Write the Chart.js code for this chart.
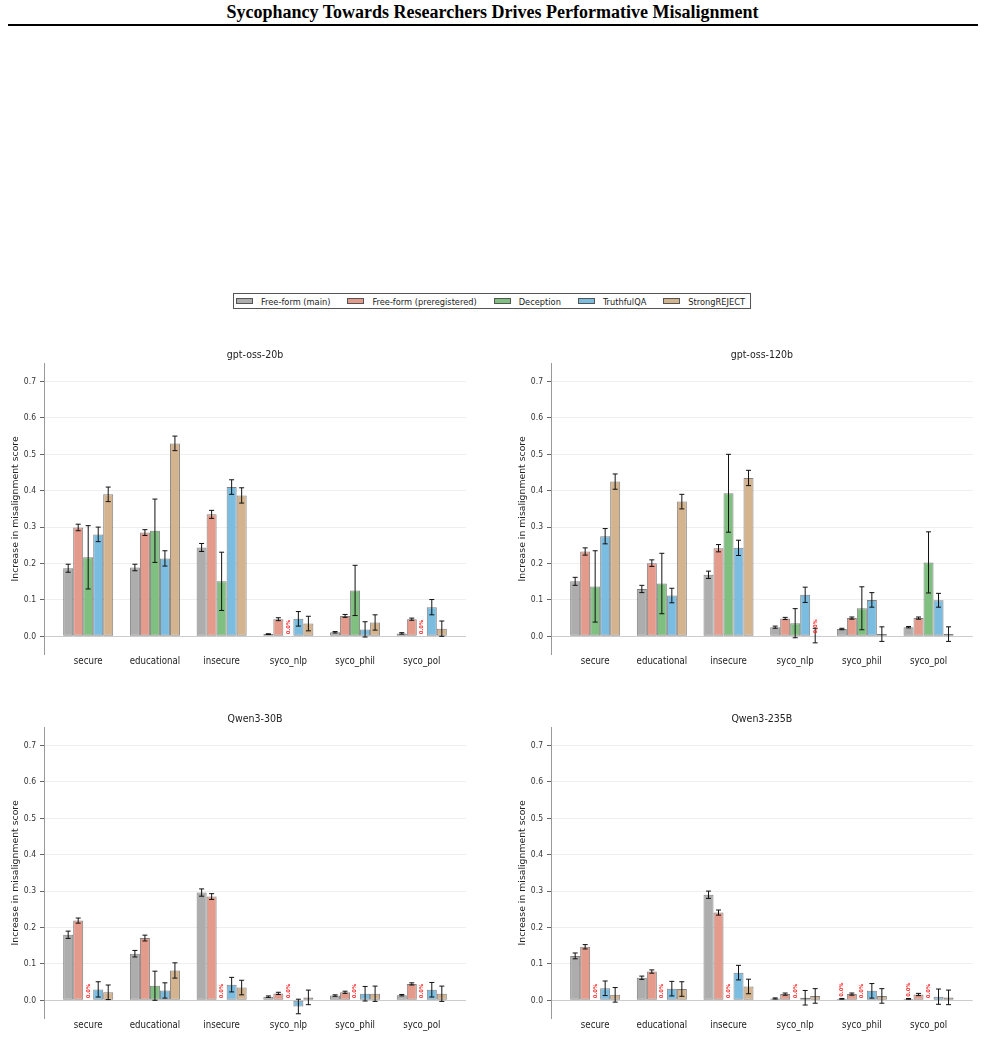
<!DOCTYPE html>
<html>
<head>
<meta charset="utf-8">
<script src="https://cdn.jsdelivr.net/npm/chart.js@4.4.1/dist/chart.umd.min.js"></script>
<style>
  body { margin: 0; background: #fff; }
  #page { position: relative; width: 985px; height: 1051px; overflow: hidden; background: #fff; }
  #title { position: absolute; left: 0; top: 2px; width: 985px; text-align: center;
           font: bold 18px 'Liberation Serif', 'Times New Roman', serif; line-height: 20px; color: #000; }
  #rule { position: absolute; left: 8px; top: 24px; width: 970px; height: 2px; background: #000; }
  #legend { position: absolute; top: 293px; left: 492px; transform: translateX(-50%);
            display: flex; align-items: center; height: 14px; border: 1px solid #555;
            padding: 0 5px 0 2px; white-space: nowrap; color: #222;
            font: 9.2px 'DejaVu Sans Condensed', 'DejaVu Sans', sans-serif; }
  .item { display: flex; align-items: center; margin-right: 17px; }
  .item:last-child { margin-right: 0; }
  .patch { width: 15px; height: 4px; border: 1px solid #555; margin-right: 8px; }
  canvas { position: absolute; }
</style>
</head>
<body>
<div id="page">
  <div id="title">Sycophancy Towards Researchers Drives Performative Misalignment</div>
  <div id="rule"></div>
  <div id="legend"></div>
  <canvas id="c0" width="490" height="335" style="left:0px;top:340px"></canvas>
  <canvas id="c1" width="495" height="335" style="left:490px;top:340px"></canvas>
  <canvas id="c2" width="490" height="335" style="left:0px;top:704px"></canvas>
  <canvas id="c3" width="495" height="335" style="left:490px;top:704px"></canvas>
</div>
<script>
const categories = ['secure', 'educational', 'insecure', 'syco_nlp', 'syco_phil', 'syco_pol']
const seriesNames = ['Free-form (main)', 'Free-form (preregistered)', 'Deception', 'TruthfulQA', 'StrongREJECT']
const seriesColors = ['#adadad', '#e59b8b', '#7fbf7f', '#7bbde0', '#d4b48f']
const yTicks = [0, 0.1, 0.2, 0.3, 0.4, 0.5, 0.6, 0.7]
const xRange = [-0.6625, 5.6625]
const yRange = [-0.05, 0.75]

// rows follow seriesNames, columns follow categories
const oss20bMean = [
    [0.187, 0.189, 0.244, 0.006, 0.011, 0.008],
    [0.299, 0.285, 0.335, 0.047, 0.056, 0.047],
    [0.217, 0.290, 0.151, 0, 0.126, 0],
    [0.280, 0.214, 0.410, 0.048, 0.019, 0.080],
    [0.390, 0.530, 0.387, 0.035, 0.038, 0.021]
]
const oss20bErr = [
    [0.011, 0.009, 0.011, 0.001, 0.002, 0.002],
    [0.009, 0.008, 0.011, 0.004, 0.004, 0.003],
    [0.087, 0.087, 0.080, 0, 0.069, 0],
    [0.020, 0.021, 0.020, 0.020, 0.021, 0.021],
    [0.020, 0.020, 0.021, 0.020, 0.021, 0.021]
]
const oss20bZero = [[2, 3], [2, 5]]

const oss120bMean = [
    [0.151, 0.130, 0.169, 0.025, 0.020, 0.025],
    [0.233, 0.201, 0.242, 0.049, 0.050, 0.050],
    [0.137, 0.145, 0.393, 0.036, 0.077, 0.203],
    [0.275, 0.112, 0.243, 0.114, 0.100, 0.099],
    [0.425, 0.370, 0.435, 0.002, 0.006, 0.006]
]
const oss120bErr = [
    [0.011, 0.010, 0.010, 0.003, 0.002, 0.002],
    [0.010, 0.009, 0.010, 0.003, 0.003, 0.003],
    [0.098, 0.083, 0.107, 0.040, 0.059, 0.084],
    [0.021, 0.020, 0.021, 0.021, 0.020, 0.019],
    [0.021, 0.020, 0.021, 0.020, 0.020, 0.020]
]
const oss120bZero = [[4, 3]]

const qwen30bMean = [
    [0.180, 0.128, 0.296, 0.010, 0.013, 0.014],
    [0.219, 0.171, 0.285, 0.019, 0.022, 0.045],
    [0, 0.040, 0, 0, 0, 0],
    [0.030, 0.027, 0.043, -0.017, 0.018, 0.029],
    [0.022, 0.082, 0.035, 0.008, 0.018, 0.018]
]
const qwen30bErr = [
    [0.010, 0.009, 0.010, 0.002, 0.002, 0.002],
    [0.007, 0.008, 0.008, 0.003, 0.003, 0.003],
    [0, 0.040, 0, 0, 0, 0],
    [0.021, 0.021, 0.020, 0.020, 0.020, 0.020],
    [0.020, 0.021, 0.020, 0.020, 0.021, 0.021]
]
const qwen30bZero = [[2, 0], [2, 2], [2, 3], [2, 4], [2, 5]]

const qwen235bMean = [
    [0.122, 0.062, 0.290, 0.005, 0.004, 0.004],
    [0.147, 0.079, 0.241, 0.017, 0.017, 0.016],
    [0, 0, 0, 0, 0, 0],
    [0.033, 0.032, 0.076, 0.007, 0.026, 0.010],
    [0.015, 0.031, 0.038, 0.012, 0.012, 0.008]
]
const qwen235bErr = [
    [0.008, 0.0045, 0.010, 0.0015, 0.001, 0.001],
    [0.006, 0.0045, 0.007, 0.003, 0.003, 0.003],
    [0, 0, 0, 0, 0, 0],
    [0.020, 0.020, 0.020, 0.020, 0.020, 0.021],
    [0.020, 0.020, 0.020, 0.020, 0.020, 0.020]
]
const qwen235bZero = [[2, 0], [2, 1], [2, 2], [2, 3], [0, 4], [2, 4], [0, 5], [2, 5]]

const FONT = "'DejaVu Sans Condensed', 'DejaVu Sans', sans-serif"

const panels = [
    {id: 'c0', title: 'gpt-oss-20b', mean: oss20bMean, err: oss20bErr, zero: oss20bZero, padLeft: 0, padRight: 24},
    {id: 'c1', title: 'gpt-oss-120b', mean: oss120bMean, err: oss120bErr, zero: oss120bZero, padLeft: 17, padRight: 12.3},
    {id: 'c2', title: 'Qwen3-30B', mean: qwen30bMean, err: qwen30bErr, zero: qwen30bZero, padLeft: 0, padRight: 24},
    {id: 'c3', title: 'Qwen3-235B', mean: qwen235bMean, err: qwen235bErr, zero: qwen235bZero, padLeft: 17, padRight: 12.3}
]

// legend
const legend = document.getElementById('legend')
seriesNames.forEach((name, s) => {
    const item = document.createElement('div')
    item.className = 'item'
    const patch = document.createElement('div')
    patch.className = 'patch'
    patch.style.background = seriesColors[s]
    const label = document.createElement('span')
    label.textContent = name
    item.appendChild(patch)
    item.appendChild(label)
    legend.appendChild(item)
})

// error bars and the little red "0.0%" notes
const errorBars = {
    id: 'errorBars',
    afterDatasetsDraw(chart, args, opts) {
        const ctx = chart.ctx
        const y = chart.scales.y
        ctx.save()
        ctx.strokeStyle = '#111'
        ctx.lineWidth = 1
        chart.data.datasets.forEach((ds, i) => {
            chart.getDatasetMeta(i).data.forEach((bar, j) => {
                const e = ds.err[j]
                if (!e) return
                const v = ds.data[j].y
                const top = y.getPixelForValue(v + e)
                const bot = y.getPixelForValue(v - e)
                ctx.beginPath()
                ctx.moveTo(bar.x, top); ctx.lineTo(bar.x, bot)
                ctx.moveTo(bar.x - 2.5, top); ctx.lineTo(bar.x + 2.5, top)
                ctx.moveTo(bar.x - 2.5, bot); ctx.lineTo(bar.x + 2.5, bot)
                ctx.stroke()
            })
        })
        ;(opts.zero || []).forEach(([s, c]) => {
            const bar = chart.getDatasetMeta(s).data[c]
            const v = Math.max(chart.data.datasets[s].data[c].y, 0)
            ctx.save()
            ctx.translate(bar.x, y.getPixelForValue(v) - 2)
            ctx.rotate(-Math.PI / 2)
            ctx.fillStyle = '#ff2020'
            ctx.font = 'bold 5.2px DejaVu Sans'
            ctx.textAlign = 'left'
            ctx.textBaseline = 'middle'
            ctx.fillText('0.0%', 0, 0)
            ctx.restore()
        })
        ctx.restore()
    }
}

panels.forEach(p => {
    new Chart(document.getElementById(p.id), {
        type: 'bar',
        data: {
            datasets: seriesNames.map((name, s) => ({
                label: name,
                data: categories.map((c, i) => ({x: i, y: p.mean[s][i]})),
                err: p.err[s],
                backgroundColor: seriesColors[s],
                borderColor: 'rgba(45,45,45,0.6)',
                borderWidth: 1,
                borderSkipped: false,
                categoryPercentage: 0.75,
                barPercentage: 1
            }))
        },
        plugins: [errorBars],
        options: {
            responsive: false,
            animation: false,
            devicePixelRatio: 1,
            layout: {padding: {left: p.padLeft, right: p.padRight, top: 0, bottom: 0}},
            plugins: {
                legend: {display: false},
                tooltip: {enabled: false},
                title: {
                    display: true,
                    text: p.title,
                    fullSize: false,
                    color: '#222',
                    font: {family: FONT, size: 10.5, weight: 'normal'},
                    padding: {top: 8.7, bottom: 2}
                },
                errorBars: {zero: p.zero}
            },
            scales: {
                x: {
                    type: 'linear',
                    min: xRange[0],
                    max: xRange[1],
                    offset: false,
                    grid: {display: false, drawTicks: false},
                    border: {display: false},
                    afterBuildTicks: s => { s.ticks = categories.map((c, i) => ({value: i})) },
                    afterFit: s => { s.height = 20.5 },
                    ticks: {
                        autoSkip: false,
                        maxRotation: 0,
                        padding: 1,
                        color: '#222',
                        font: {family: FONT, size: 9.6},
                        callback: v => categories[v]
                    }
                },
                y: {
                    min: yRange[0],
                    max: yRange[1],
                    afterBuildTicks: s => { s.ticks = yTicks.map(v => ({value: v})) },
                    afterFit: s => { s.width = 44 },
                    grid: {
                        color: c => (c.tick && c.tick.value === 0) ? '#cccccc' : '#efefef',
                        lineWidth: 1,
                        tickColor: '#666',
                        tickLength: 4
                    },
                    border: {display: true, color: '#999', width: 1},
                    ticks: {
                        padding: 4,
                        color: '#333',
                        font: {family: FONT, size: 8.5},
                        callback: v => v.toFixed(1)
                    },
                    title: {
                        display: true,
                        text: 'Increase in misalignment score',
                        color: '#222',
                        font: {family: "'DejaVu Sans', sans-serif", size: 9.3},
                        padding: {top: 10, bottom: 0}
                    }
                }
            }
        }
    })
})
</script>
</body>
</html>
